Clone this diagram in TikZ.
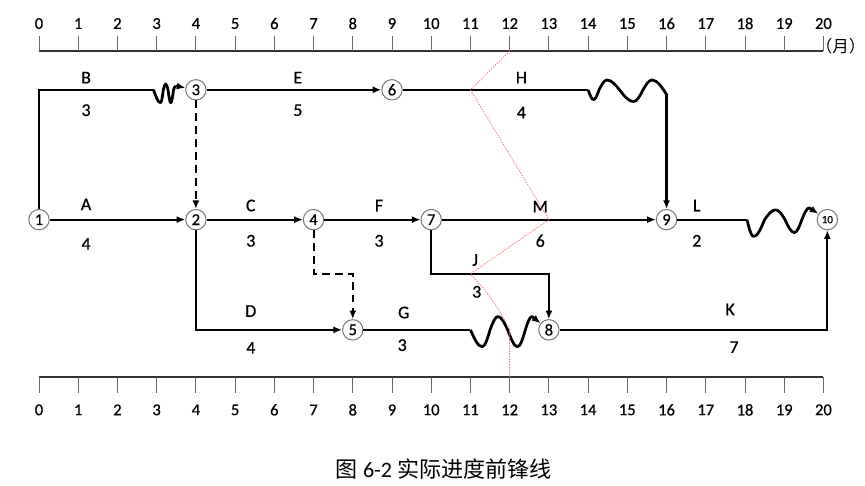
\documentclass[tikz,border=0pt]{standalone}
\usepackage{fontspec}
\setmainfont{Carlito}
\newfontfamily\lblfont[FakeBold=0.6]{Carlito}
\newfontfamily\cjkfont{Noto Sans CJK SC}
\usetikzlibrary{arrows.meta}

\tikzset{
  event/.style={circle, draw=black!55, line width=0.7pt, fill=white, inner sep=0pt,
    minimum size=0.52cm, font=\lblfont\fontsize{12}{12}\selectfont},
  link/.style={line width=1.4pt},
  work/.style={link, -{Latex[length=2.2mm,width=1.8mm]}},
  dummy/.style={work, dash pattern=on 2mm off 1.3mm},
  wavy/.style={line width=2pt, line join=round, -{Latex[length=2.2mm,width=1.8mm]}},
  lbl/.style={font=\lblfont\fontsize{13}{13}\selectfont},
  num/.style={font=\lblfont\fontsize{12}{12}\selectfont},
  scaletick/.style={black!60, line width=0.7pt},
  frontline/.style={red!55, line width=0.6pt, dash pattern=on 1pt off 1pt},
}

\begin{document}
\begin{tikzpicture}
\path[fill=white, use as bounding box] (-0.994,0) rectangle (21.06,12.39);
% time scales
\draw[black!80, line width=1pt] (0,11.09) -- (20,11.09);
\draw[black!80, line width=1pt] (0,2.78) -- (20,2.78);
\foreach \m in {0,...,20} {
	\draw[scaletick] (\m,11.09) -- (\m,11.47);
	\node[num] (top\m) at (\m,11.79) {\m};
	\draw[scaletick] (\m,2.78) -- (\m,2.37);
	\node[num] (bot\m) at (\m,1.94) {\m};
};
\node[font=\cjkfont\fontsize{12}{12}\selectfont] (unit) at (20.44,11.22) {（月）};

% events
\node[event] (e1) at (0,6.79) {1};
\node[event] (e2) at (4,6.79) {2};
\node[event] (e3) at (4,10.10) {3};
\node[event] (e4) at (7,6.79) {4};
\node[event] (e5) at (8,3.98) {5};
\node[event] (e6) at (9,10.10) {6};
\node[event] (e7) at (10,6.79) {7};
\node[event] (e8) at (13,3.98) {8};
\node[event] (e9) at (16,6.79) {9};
\node[event, font=\lblfont\fontsize{8}{8}\selectfont] (e10) at (20.1,6.79) {10};

\coordinate (b1) at (2.92,10.10);
\coordinate (b2) at (3.49,10.2);
\coordinate (h1) at (14,10.10);
\coordinate (j1) at (13,5.41);
\coordinate (d45) at (8,5.41);
\coordinate (g1) at (11,3.98);
\coordinate (l1) at (18.05,6.79);

% works
\draw[work] (e1) -- (e2);
\draw[link] (e1) |- (b1);
\draw[wavy, -] (b1) sin ++(0.18,-0.33) cos ++(0.07,0.33) sin ++(0.06,0.15) cos ++(0.06,-0.15)
	sin ++(0.07,-0.33) cos ++(0.07,0.33) sin (b2);
\draw[work] (b2) -- (e3);
\draw[work] (e2) -- (e4);
\draw[work] (e2) |- (e5);
\draw[work] (e3) -- (e6);
\draw[work] (e4) -- (e7);
\draw[link] (e6) -- (h1);
\draw[wavy] (h1) sin ++(0.14,-0.25) cos ++(0.14,0.25) sin ++(0.2,0.25) cos ++(0.32,-0.25)
	sin ++(0.36,-0.3) cos ++(0.24,0.3) sin ++(0.23,0.25) cos ++(0.37,-0.37) -- (e9);
\draw[work] (e7) -- (e9);
\draw[work] (e7) |- (j1) -- (e8);
\draw[link] (e5) -- (g1);
\draw[wavy] (g1) sin ++(0.3,-0.43) cos ++(0.2,0.43) sin ++(0.2,0.34) cos ++(0.25,-0.34)
	sin ++(0.25,-0.43) cos ++(0.2,0.43) sin ++(0.17,0.34) -- (e8);
\draw[link] (e9) -- (l1);
\draw[wavy] (l1) sin ++(0.17,-0.43) cos ++(0.28,0.43) sin ++(0.28,0.25) cos ++(0.24,-0.25)
	sin ++(0.24,-0.33) cos ++(0.19,0.33) sin ++(0.19,0.3) -- (e10);
\draw[work] (e8) -| (e10);
\draw[dummy] (e3) -- (e2);
\draw[dummy] (e4) |- (d45) -- (e5);

% labels
\node[lbl] (nB) at (1.2,10.41) {B};   \node[lbl] (tB) at (1.2,9.58) {3};
\node[lbl] (nE) at (6.6,10.41) {E};   \node[lbl] (tE) at (6.6,9.58) {5};
\node[lbl] (nH) at (12.3,10.41) {H};  \node[lbl] (tH) at (12.3,9.52) {4};
\node[lbl] (nA) at (1.2,7.18) {A};    \node[lbl] (tA) at (1.2,6.17) {4};
\node[lbl] (nC) at (5.4,7.15) {C};    \node[lbl] (tC) at (5.4,6.25) {3};
\node[lbl] (nF) at (8.67,7.15) {F};   \node[lbl] (tF) at (8.67,6.25) {3};
\node[lbl] (nM) at (12.78,7.12) {M};  \node[lbl] (tM) at (12.78,6.25) {6};
\node[lbl] (nL) at (16.77,7.15) {L};  \node[lbl] (tL) at (16.77,6.25) {2};
\node[lbl] (nJ) at (11.12,5.76) {J};  \node[lbl] (tJ) at (11.16,4.95) {3};
\node[lbl] (nD) at (5.4,4.46) {D};    \node[lbl] (tD) at (5.4,3.52) {4};
\node[lbl] (nG) at (9.3,4.42) {G};    \node[lbl] (tG) at (9.26,3.59) {3};
\node[lbl] (nK) at (17.62,4.5) {K};   \node[lbl] (tK) at (17.72,3.54) {7};

% progress front line
\draw[frontline] (12,11.09) -- (11,10.10) -- (13,6.79) -- (11,5.41)
	to[bend left=8] (12,3.98) -- (12,2.78);

\node[font=\fontsize{16}{16}\selectfont] (caption) at (10.32,0.43) {{\cjkfont 图} 6-2 {\cjkfont 实际进度前锋线}};
\end{tikzpicture}
\end{document}
